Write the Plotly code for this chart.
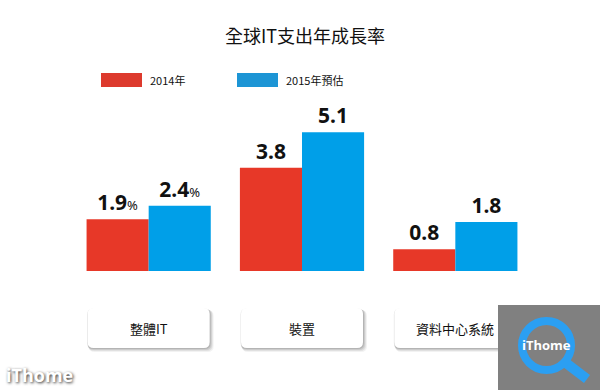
import plotly.graph_objects as go

# ---- data ----
categories = ["整體IT", "裝置", "資料中心系統"]
series_names = ["2014年", "2015年預估"]
values_2014 = [1.9, 3.8, 0.8]
values_2015 = [2.4, 5.1, 1.8]
title_text = "全球IT支出年成長率"

RED = "#E73828"
BLUE = "#009FE8"
LEG_RED = "#DD3A2D"
LEG_BLUE = "#1D95D5"

W, H = 600, 390
ML, MR, MT, MB = 72, 68, 100, 119
PW, PH = W - ML - MR, H - MT - MB
YMAX = PH / 27.2


def px(x):
    return (x - ML) / PW


def py(y):
    return (H - MB - y) / PH


def cat_px(i):
    return ML + (i + 0.5) * PW / len(categories)


def label(v, i):
    s = f"<b>{v:.1f}</b>"
    if i == 0:
        s += "<span style='font-size:13px'>%</span>"
    return s


fig = go.Figure()
for name, vals, col in [(series_names[0], values_2014, RED), (series_names[1], values_2015, BLUE)]:
    fig.add_trace(go.Bar(
        x=categories, y=vals, name=name, marker=dict(color=col, line=dict(width=0)),
        text=[label(v, i) for i, v in enumerate(vals)],
        textposition="outside", cliponaxis=False,
        textfont=dict(family="Noto Sans, Open Sans, sans-serif", size=21, color="#111"),
        hoverinfo="skip", showlegend=False,
    ))

shapes = []
annotations = []


def rrect(x0, y0, x1, y1, r, **kw):
    X0, X1 = px(x0), px(x1)
    Y0, Y1 = py(y0), py(y1)  # Y0 top, Y1 bottom (Y0 > Y1)
    rx, ry = r / PW, r / PH
    path = (f"M {X0+rx},{Y0} L {X1-rx},{Y0} Q {X1},{Y0} {X1},{Y0-ry} "
            f"L {X1},{Y1+ry} Q {X1},{Y1} {X1-rx},{Y1} L {X0+rx},{Y1} "
            f"Q {X0},{Y1} {X0},{Y1+ry} L {X0},{Y0-ry} Q {X0},{Y0} {X0+rx},{Y0} Z")
    return dict(type="path", xref="paper", yref="paper", path=path, layer="above", **kw)


# category boxes with soft shadow
for i, c in enumerate(categories):
    cx = cat_px(i)
    x0, x1 = cx - 61, cx + 61
    y0, y1 = 308, 348
    for k, op in [(4, 0.05), (3, 0.07), (2, 0.09), (1, 0.11)]:
        shapes.append(rrect(x0 - 1 + k * 0.5, y0 + k * 0.5, x1 + k, y1 + k, 6,
                            fillcolor=f"rgba(0,0,0,{op})", line=dict(width=0)))
    shapes.append(rrect(x0, y0, x1, y1, 6, fillcolor="white", line=dict(width=0)))
    annotations.append(dict(x=px(cx), y=py(328), xref="paper", yref="paper", text=c,
                            showarrow=False, xanchor="center", yanchor="middle",
                            font=dict(family="Noto Sans CJK TC", size=13, color="#111")))

# legend
for (x0, name, col) in [(101, series_names[0], LEG_RED), (237, series_names[1], LEG_BLUE)]:
    shapes.append(dict(type="rect", xref="paper", yref="paper", x0=px(x0), x1=px(x0 + 41),
                       y0=py(87), y1=py(73), fillcolor=col, line=dict(width=0)))
    annotations.append(dict(x=px(x0 + 47), y=py(80), xref="paper", yref="paper", text=name,
                            showarrow=False, xanchor="left", yanchor="middle",
                            font=dict(family="Noto Sans CJK TC", size=11, color="#111")))

# watermark box bottom right
shapes.append(dict(type="rect", xref="paper", yref="paper", x0=px(498), x1=px(600),
                   y0=py(390), y1=py(305), fillcolor="#808080", line=dict(width=0), layer="above"))
shapes.append(dict(type="line", xref="paper", yref="paper", x0=px(566), y0=py(363),
                   x1=px(587), y1=py(379), line=dict(color="#2B9FF2", width=10), layer="above"))
shapes.append(dict(type="circle", xref="paper", yref="paper", x0=px(522), x1=px(571),
                   y0=py(370), y1=py(321), line=dict(color="#2B9FF2", width=8), layer="above"))
annotations.append(dict(x=px(546), y=py(345), xref="paper", yref="paper", text="<b>iThome</b>",
                        showarrow=False, xanchor="center", yanchor="middle",
                        font=dict(family="Open Sans", size=13, color="white")))
annotations.append(dict(x=px(4), y=py(375), xref="paper", yref="paper", text="<b>iThome</b>",
                        showarrow=False, xanchor="left", yanchor="middle",
                        font=dict(family="Open Sans", size=18, color="white",
                                  shadow="1px 1px 3px #333")))

fig.update_layout(
    width=W, height=H,
    margin=dict(l=ML, r=MR, t=MT, b=MB),
    paper_bgcolor="white", plot_bgcolor="white",
    title=dict(text=title_text, x=px(305), xref="paper", y=1 - 37 / H, yanchor="middle",
               xanchor="center",
               font=dict(family="Noto Sans CJK TC", size=18, color="#111")),
    barmode="group", bargap=0.19, bargroupgap=0,
    xaxis=dict(range=[-0.5, 2.5], showticklabels=False, showgrid=False, zeroline=False,
               showline=False, ticks="", fixedrange=True),
    yaxis=dict(range=[0, YMAX], visible=False, fixedrange=True),
    shapes=shapes, annotations=annotations,
)

fig.write_html("out.html", config={"displayModeBar": False},
               post_script="document.body.style.margin='0';document.body.style.overflow='hidden';")
